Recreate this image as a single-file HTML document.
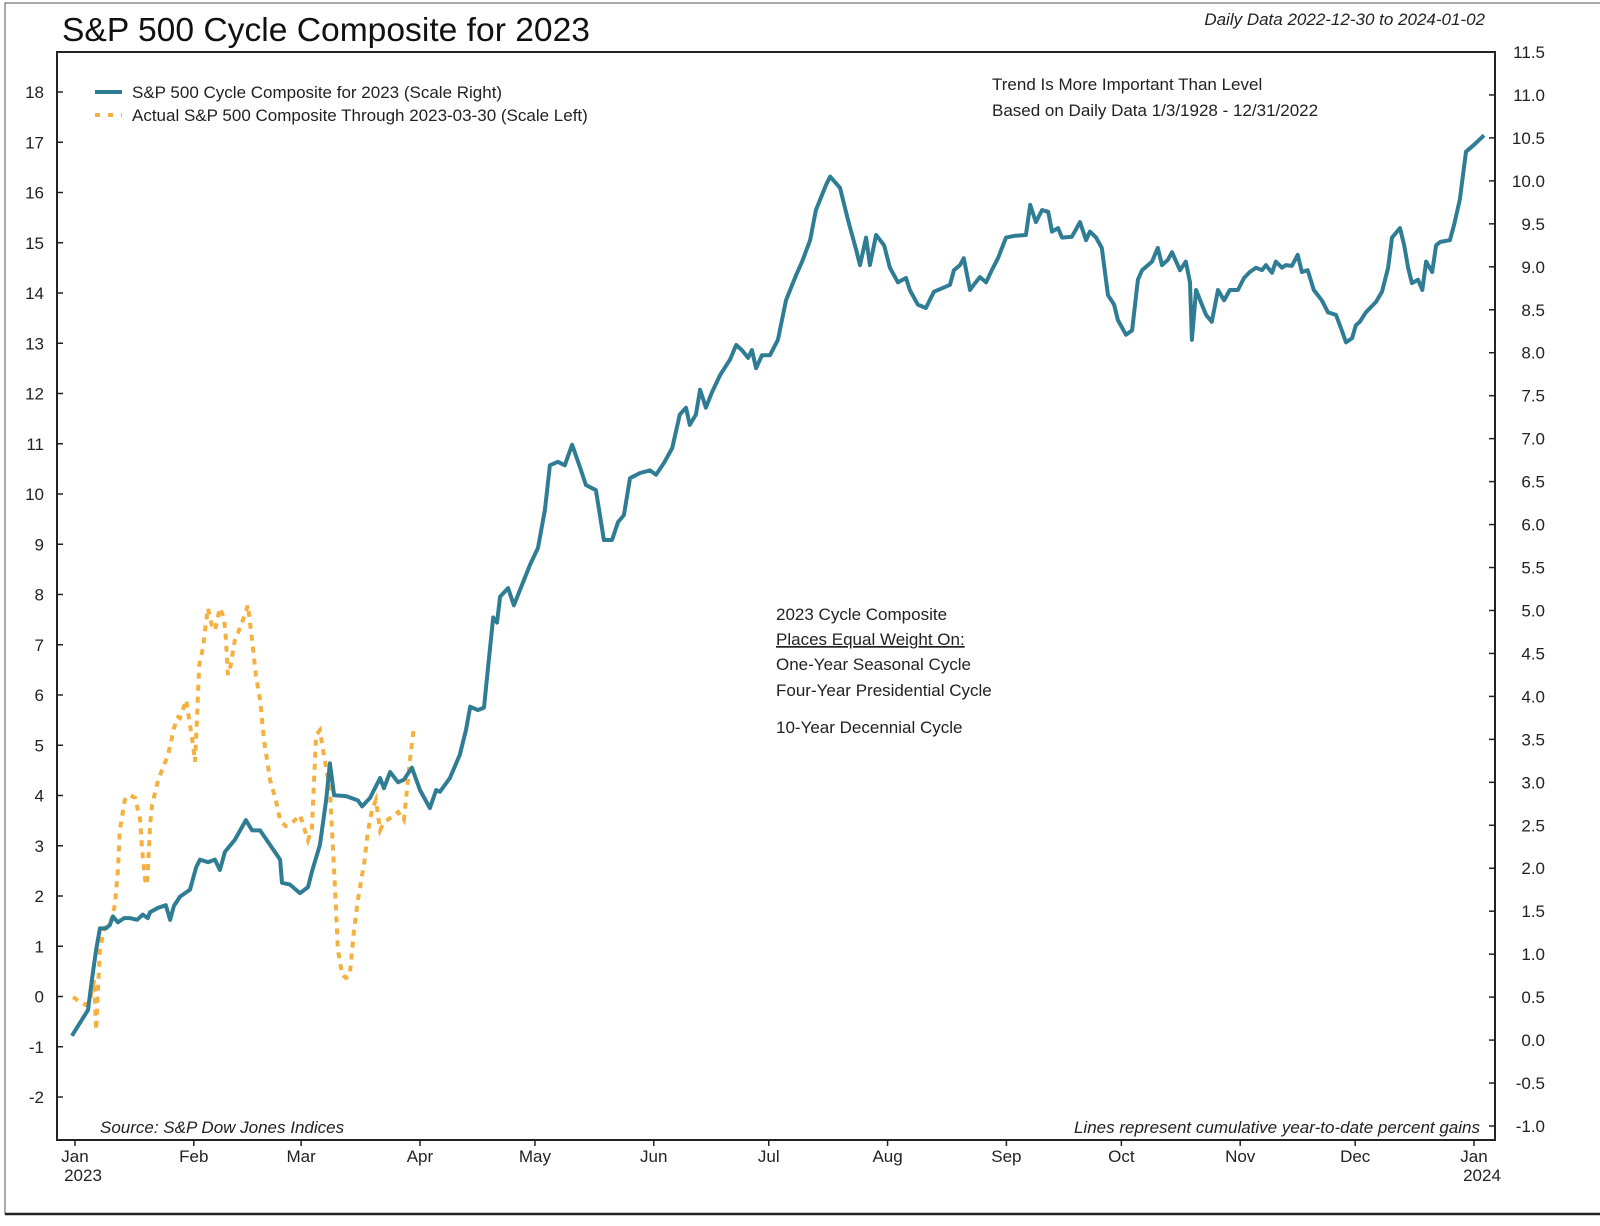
<!DOCTYPE html>
<html><head><meta charset="utf-8"><style>
html,body{margin:0;padding:0;background:#fff;}
svg{display:block;font-family:"Liberation Sans",sans-serif;}
</style></head><body>
<svg id="chart" width="1600" height="1226" viewBox="0 0 1600 1226">
<rect x="5" y="3" width="1600" height="1211" fill="none" stroke="#555" stroke-width="1"/>
<line x1="5" y1="1214" x2="1600" y2="1214" stroke="#222" stroke-width="2.5"/>
<text x="62" y="41" font-size="33" textLength="528" lengthAdjust="spacingAndGlyphs" fill="#111">S&amp;P 500 Cycle Composite for 2023</text>
<text x="1485" y="25" font-size="17" font-style="italic" text-anchor="end" fill="#222">Daily Data 2022-12-30 to 2024-01-02</text>
<rect x="57" y="52" width="1438" height="1088" fill="none" stroke="#222" stroke-width="2"/>
<g id="axes"></g>
<g id="series"></g>
<g>
<line x1="95" y1="92" x2="122" y2="92" stroke="#2f7d95" stroke-width="4"/>
<text x="132" y="98" font-size="17" fill="#222">S&amp;P 500 Cycle Composite for 2023 (Scale Right)</text>
<line x1="95" y1="115" x2="122" y2="115" stroke="#f5b140" stroke-width="4" stroke-dasharray="5,8"/>
<text x="132" y="121" font-size="17" fill="#222">Actual S&amp;P 500 Composite Through 2023-03-30 (Scale Left)</text>
</g>
<text x="992" y="90" font-size="17" fill="#222">Trend Is More Important Than Level</text>
<text x="992" y="116" font-size="17" fill="#222">Based on Daily Data 1/3/1928 - 12/31/2022</text>
<g font-size="17" fill="#222">
<text x="776" y="620">2023 Cycle Composite</text>
<text x="776" y="645" text-decoration="underline">Places Equal Weight On:</text>
<text x="776" y="670">One-Year Seasonal Cycle</text>
<text x="776" y="696">Four-Year Presidential Cycle</text>
<text x="776" y="733">10-Year Decennial Cycle</text>
</g>
<text x="100" y="1133" font-size="17" font-style="italic" fill="#222">Source:   S&amp;P Dow Jones Indices</text>
<text x="1480" y="1133" font-size="17" font-style="italic" text-anchor="end" fill="#222">Lines represent cumulative year-to-date percent gains</text>
</svg>
<script>
const leftTicks=[18,17,16,15,14,13,12,11,10,9,8,7,6,5,4,3,2,1,0,-1,-2];
const rightTicks=["11.5","11.0","10.5","10.0","9.5","9.0","8.5","8.0","7.5","7.0","6.5","6.0","5.5","5.0","4.5","4.0","3.5","3.0","2.5","2.0","1.5","1.0","0.5","0.0","-0.5","-1.0"];
const monthLabels=["Jan","Feb","Mar","Apr","May","Jun","Jul","Aug","Sep","Oct","Nov","Dec","Jan"];
const monthDays=[0,31,59,90,120,151,181,212,243,273,304,334,365];
const cycleDays=[-0.8,3.4,4.4,5.5,6.5,8.1,9.1,9.9,11.2,12.8,14.3,16.2,17.7,19.0,19.6,21.7,23.7,24.8,25.8,27.4,30.0,31.6,32.6,34.7,36.5,37.8,39.1,41.7,44.6,46.2,48.3,50.9,53.5,54.0,56.1,58.7,60.8,61.8,63.9,65.5,66.5,67.6,70.7,73.8,74.9,77.0,79.6,80.6,82.2,84.3,85.8,87.9,90.0,92.6,94.2,95.2,97.8,100.4,102.0,103.1,105.1,106.7,107.7,109.1,110.1,110.9,113.0,114.5,116.1,118.7,120.8,122.6,123.9,126.0,127.8,129.7,131.8,133.3,135.9,138.0,140.1,141.7,143.2,144.8,147.4,150.0,151.6,153.7,155.8,157.8,159.4,160.4,162.0,163.1,164.6,166.2,168.3,170.9,172.5,174.0,175.6,176.6,177.7,179.2,181.3,183.4,185.5,188.1,189.7,191.8,193.3,195.9,197.0,199.6,201.7,203.8,204.8,206.4,207.4,209.0,211.1,212.6,214.7,216.8,217.8,219.9,222.0,224.1,226.2,228.3,229.3,230.9,231.9,233.5,234.5,236.1,237.7,239.2,240.8,242.9,245.0,248.1,249.2,250.7,252.3,253.9,254.9,256.5,257.5,260.1,262.2,263.8,264.8,266.4,267.9,269.5,271.1,272.1,274.2,275.8,277.3,278.4,281.0,282.5,283.6,285.1,286.2,288.3,289.8,290.9,291.4,292.5,294.0,295.1,296.6,298.2,299.8,301.3,303.4,305.0,306.5,308.1,309.7,310.7,312.3,313.3,314.9,315.9,317.5,319.0,320.1,321.6,323.2,325.3,326.9,329.0,330.5,331.6,333.2,334.2,335.2,336.8,339.4,341.0,342.6,343.6,345.7,346.8,347.8,348.8,350.4,351.5,352.5,354.1,355.1,356.2,358.7,359.8,361.3,362.9,365.0,367.6];
const cycleValues=[0.05,0.35,0.70,1.05,1.30,1.30,1.34,1.44,1.37,1.42,1.42,1.40,1.46,1.42,1.49,1.54,1.57,1.40,1.56,1.67,1.75,2.01,2.10,2.07,2.10,1.98,2.19,2.33,2.56,2.44,2.44,2.27,2.10,1.83,1.81,1.71,1.78,1.96,2.27,2.79,3.22,2.85,2.84,2.79,2.72,2.82,3.05,2.93,3.12,3.00,3.03,3.17,2.91,2.70,2.91,2.89,3.05,3.32,3.61,3.88,3.84,3.87,4.31,4.92,4.86,5.16,5.26,5.06,5.24,5.53,5.73,6.17,6.69,6.73,6.69,6.93,6.66,6.46,6.40,5.82,5.82,6.03,6.11,6.54,6.60,6.63,6.58,6.72,6.89,7.28,7.36,7.16,7.28,7.57,7.36,7.54,7.74,7.92,8.09,8.03,7.94,8.03,7.82,7.97,7.97,8.15,8.61,8.90,9.06,9.31,9.66,9.95,10.05,9.92,9.54,9.20,9.02,9.34,9.02,9.37,9.25,8.99,8.82,8.87,8.73,8.56,8.52,8.71,8.75,8.79,8.96,9.02,9.10,8.73,8.79,8.88,8.82,8.96,9.10,9.34,9.36,9.37,9.72,9.52,9.66,9.64,9.41,9.45,9.34,9.35,9.52,9.31,9.41,9.34,9.22,8.67,8.56,8.38,8.21,8.26,8.85,8.96,9.06,9.22,9.02,9.08,9.17,8.96,9.06,8.82,8.15,8.73,8.56,8.44,8.36,8.73,8.61,8.73,8.73,8.87,8.94,8.99,8.96,9.02,8.93,9.06,8.99,9.02,9.01,9.14,8.94,8.96,8.73,8.61,8.47,8.44,8.26,8.12,8.17,8.32,8.36,8.47,8.59,8.71,8.99,9.34,9.45,9.25,8.99,8.81,8.85,8.73,9.06,8.94,9.25,9.29,9.31,9.49,9.78,10.34,10.42,10.53];
const actualDays=[-0.5,1.3,2.9,3.9,5.0,5.5,6.0,6.5,7.6,9.1,10.4,11.2,11.7,13.0,14.3,15.7,17.0,17.5,18.3,18.8,19.6,20.1,21.7,23.0,24.3,25.8,26.9,27.4,29.0,30.0,30.8,31.3,31.8,32.4,33.4,34.2,34.7,35.2,35.7,36.5,37.8,38.9,39.4,39.9,40.4,41.7,43.0,43.8,45.1,46.2,47.2,48.3,49.3,50.9,52.4,53.5,55.0,56.6,58.7,60.8,61.8,62.9,63.9,65.5,66.5,67.6,68.6,69.7,70.7,71.7,72.8,73.8,74.9,75.4,76.4,77.5,78.5,79.6,80.6,82.2,84.3,85.8,87.4,88.4];
const actualValues=[-0.01,-0.11,-0.17,-0.07,0.33,-0.67,0.13,0.92,1.36,1.42,1.82,2.52,3.31,3.91,4.01,3.95,3.51,2.92,2.32,2.22,3.41,3.81,4.31,4.57,4.81,5.34,5.56,5.54,5.90,5.40,5.00,4.67,5.50,6.60,6.94,7.45,7.73,7.55,7.39,7.29,7.73,7.53,7.09,6.40,6.50,7.09,7.33,7.49,7.79,7.09,6.38,5.90,5.10,4.31,3.91,3.51,3.39,3.45,3.61,3.11,3.35,5.20,5.30,4.55,4.11,2.52,0.93,0.43,0.37,0.43,1.32,1.92,2.42,2.62,3.27,3.71,3.91,3.31,3.47,3.55,3.67,3.51,4.71,5.34];

const NS="http://www.w3.org/2000/svg";
const xScale=d=>75+d*(1399/365);
const yLeft=v=>92+(18-v)*50.25;
const yRight=v=>52+(11.5-v)*85.92;
function mk(tag,attrs,parent){const e=document.createElementNS(NS,tag);for(const k in attrs)e.setAttribute(k,attrs[k]);parent.appendChild(e);return e;}
const axes=document.getElementById('axes');
leftTicks.forEach(t=>{
  const y=yLeft(t);
  const l=mk('line',{x1:57,x2:63,y1:y,y2:y,stroke:'#222','stroke-width':1.5},axes);
  
  
  const tx=mk('text',{x:44,y:y+6,'font-size':17,'text-anchor':'end',fill:'#222'},axes);
  tx.textContent=t;
  
  
});
rightTicks.forEach(t=>{
  const y=yRight(parseFloat(t));
  const l=mk('line',{x1:1489,x2:1495,y1:y,y2:y,stroke:'#222','stroke-width':1.5},axes);
  
  
  const tx=mk('text',{x:1545,y:y+6,'font-size':17,'text-anchor':'end',fill:'#222'},axes);
  tx.textContent=t;
  
  
});
monthLabels.forEach((m,i)=>{
  const x=xScale(monthDays[i]);
  const l=mk('line',{x1:x,x2:x,y1:1140,y2:1146,stroke:'#222','stroke-width':1.5},axes);
  
  
  const tx=mk('text',{x:x,y:1162,'font-size':17,'text-anchor':'middle',fill:'#222'},axes);
  tx.textContent=m;
  
  
});
[["2023",0],["2024",12]].forEach(([yr,i])=>{
  const tx=mk('text',{x:xScale(monthDays[i])+8,y:1181,'font-size':17,'text-anchor':'middle',fill:'#222'},axes);
  tx.textContent=yr;
  
  
});
const series=document.getElementById('series');
const dA=actualDays.map((d,i)=>(i?'L':'M')+xScale(d).toFixed(1)+','+yLeft(actualValues[i]).toFixed(1)).join('');
const pa=mk('path',{d:dA,fill:'none',stroke:'#f5b140','stroke-width':4,'stroke-dasharray':'6,6'},series);


const dC=cycleDays.map((d,i)=>(i?'L':'M')+xScale(d).toFixed(1)+','+yRight(cycleValues[i]).toFixed(1)).join('');
const pc=mk('path',{d:dC,fill:'none',stroke:'#2f7d95','stroke-width':4,'stroke-linejoin':'round'},series);


</script>
</body></html>
